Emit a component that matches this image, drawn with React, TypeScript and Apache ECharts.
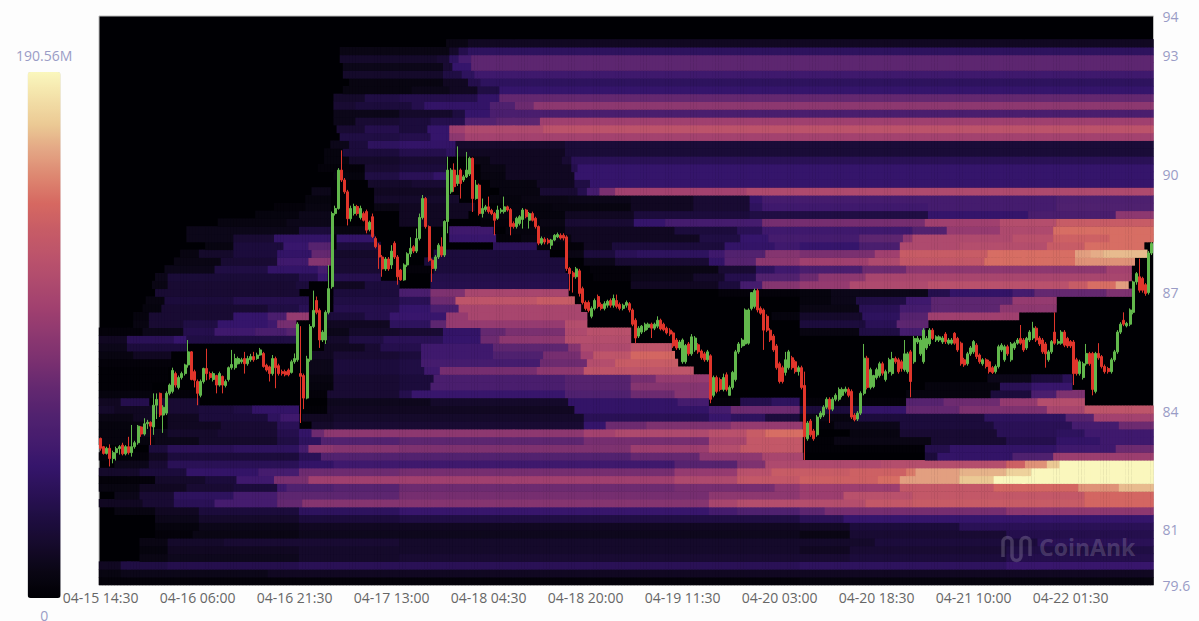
import React, { useEffect, useRef } from "react";
import * as echarts from "echarts";

// --- axes ---
const priceTicks = [79.6, 81, 84, 87, 90, 93, 94];
const priceMin = 79.6;
const priceMax = 94;
const maxVolumeM = 190.56;
const startTimeUtc = Date.UTC(2024, 3, 15, 14, 30);
const candleStepMinutes = 30;
const labelEvery = 31;

// --- candles: open, close, low, high per candle ---
const ohlcA = [
83.31,83.06,83.0,83.33, 83.10,82.93,82.9,83.12, 82.93,83.06,82.9,83.1, 83.06,82.8,82.6,83.16,
82.8,82.95,82.68,83.0, 82.95,83.05,82.75,83.1, 83.05,83.1,82.9,83.14, 83.14,82.92,82.88,83.2,
82.92,83.1,82.88,83.14, 83.1,82.95,82.9,83.35, 82.95,83.1,82.85,83.65, 83.1,83.2,83.05,83.25,
83.2,83.62,83.15,83.65, 83.6,83.42,83.35,83.62, 83.42,83.68,83.38,83.82, 83.68,83.72,83.55,83.78,
83.72,83.62,83.14,83.74, 83.6,84.15,83.4,84.45, 84.15,84.3,83.8,84.45, 84.45,83.9,83.85,84.47,
83.9,84.1,83.45,84.15, 83.95,84.45,83.9,84.5, 84.45,84.66,84.4,84.7, 84.5,85.03,84.45,85.1,
84.95,84.66,84.6,85.0, 84.6,84.85,84.55,84.9, 84.85,84.95,84.8,85.0, 84.95,85.17,84.9,85.2,
85.17,85.5,85.1,85.8, 85.5,84.8,84.78,85.52, 85.0,84.78,84.6,85.05, 84.75,84.45,84.15,84.8,
84.4,84.75,84.35,84.8, 84.75,85.08,84.7,85.1, 85.08,84.95,84.78,85.58, 84.95,84.85,84.8,85.0,
84.8,84.95,84.75,85.0, 84.9,84.66,84.45,84.92, 84.66,84.95,84.62,85.0, 84.88,84.66,84.45,84.9,
84.65,84.75,84.6,84.8, 84.8,85.1,84.75,85.13, 85.1,85.18,85.05,85.55, 85.1,85.33,85.05,85.45,
85.2,85.33,85.18,85.38, 85.25,85.3,85.2,85.35, 85.33,85.2,84.95,85.5, 85.2,85.33,85.15,85.4,
85.3,85.38,85.25,85.45, 85.38,85.3,85.25,85.5, 85.33,85.42,85.3,85.48, 85.42,85.55,85.4,85.6,
85.46,85.13,85.1,85.5, 85.16,85.04,85.0,85.2, 85.12,84.95,84.75,85.15, 84.95,85.33,84.9,85.42,
85.33,85.1,84.58,85.38, 85.15,84.95,84.9,85.2, 85.0,84.95,84.9,85.05, 85.0,84.92,84.88,85.05,
85.04,84.92,84.88,85.08, 84.98,85.25,84.95,85.3, 85.25,85.33,85.2,85.46, 85.3,86.2,85.25,86.25,
84.95,84.88,83.7,86.15, 84.9,84.33,84.05,84.95, 84.33,85.32,84.3,85.4, 85.3,86.14,85.25,86.2,
86.14,86.55,86.1,87.05,
];
const ohlcB = [
86.8,86.5,86.45,86.9, 86.55,85.8,85.6,86.6, 85.8,86.0,85.75,86.05, 85.8,86.5,85.7,86.55,
86.5,87.1,86.45,87.7, 87.15,89.0,87.1,89.05, 89.0,89.13,88.95,89.2, 89.13,90.1,89.1,90.15,
90.1,89.85,89.8,90.6, 89.85,89.55,89.5,89.9, 89.55,88.87,88.7,89.6, 88.87,89.13,88.8,89.2,
89.0,89.18,88.95,89.25, 89.18,89.0,88.95,89.22, 88.9,89.13,88.85,89.2, 89.0,88.83,88.8,89.05,
89.05,88.58,88.5,89.1, 88.6,88.78,88.55,88.82, 88.92,88.42,88.38,89.0, 88.37,88.16,88.12,88.42,
88.2,87.9,87.6,88.25, 87.9,87.6,87.4,87.95, 87.6,87.85,87.55,87.9, 87.85,87.6,87.55,87.9,
87.7,88.05,87.6,88.2, 88.25,87.9,87.85,88.3, 87.9,87.4,87.2,87.95,
];
const ohlcC = [
87.57,87.32,87.3,87.6, 87.32,87.7,87.3,87.74, 87.7,87.98,87.65,88.02, 87.98,88.12,87.9,88.4,
88.16,88.05,88.0,88.2, 88.05,88.37,88.0,88.62, 88.37,88.9,88.32,89.0, 88.9,89.38,88.85,89.47,
89.38,88.67,88.62,89.42, 88.67,87.82,87.78,88.7, 87.82,87.61,87.27,87.86, 87.61,87.9,87.55,87.95,
87.9,88.2,87.85,88.25, 88.16,87.95,87.9,88.4, 87.95,88.8,87.9,88.83, 88.8,90.1,88.5,90.44,
89.55,90.1,89.5,90.15, 90.1,89.68,89.55,90.27, 89.76,89.97,89.7,90.7, 90.1,89.76,89.38,90.14,
89.85,89.93,89.8,89.98, 89.93,90.1,89.9,90.56, 90.0,90.4,89.95,90.44, 90.4,89.38,89.04,90.42,
89.38,89.72,89.35,89.85, 89.72,89.0,88.95,89.76, 89.0,89.13,88.9,89.38, 89.1,89.17,89.05,89.22,
89.17,89.05,89.0,89.43, 89.08,89.0,88.96,89.12, 89.0,88.83,88.45,89.04, 88.88,89.09,88.84,89.2,
89.05,89.09,89.0,89.14, 89.05,89.17,89.0,89.43, 89.17,89.09,89.05,89.2, 89.1,88.67,88.45,89.14,
88.75,88.67,88.62,88.8, 88.67,88.88,88.62,88.92, 88.75,88.92,88.7,88.96, 88.85,89.09,88.62,89.14,
89.09,88.92,88.88,89.12, 88.83,89.0,88.62,89.04, 89.0,88.83,88.8,89.05, 88.88,88.67,88.62,88.92,
88.67,88.25,88.2,88.7, 88.25,88.37,88.2,88.42, 88.35,88.28,88.22,88.4, 88.33,88.26,88.22,88.38,
88.2,88.33,88.1,88.36, 88.33,88.45,88.3,88.48, 88.41,88.47,88.38,88.52, 88.45,88.38,88.34,88.5,
88.45,88.38,88.32,88.5, 88.41,87.61,87.55,88.45, 87.61,87.48,87.05,87.65, 87.5,87.4,87.0,87.55,
87.4,87.6,87.35,87.65, 87.55,86.98,86.9,87.6, 87.1,86.75,86.7,87.15, 86.75,86.6,86.55,86.8,
86.75,86.55,86.5,86.8, 86.4,86.6,86.35,86.65, 86.6,86.8,86.55,86.85, 86.9,86.65,86.6,86.95,
86.7,86.6,86.55,86.75, 86.6,86.72,86.55,86.78, 86.68,86.78,86.62,86.82, 86.8,86.68,86.62,86.85,
86.68,86.85,86.62,86.95, 86.8,86.65,86.6,86.95, 86.7,86.6,86.55,86.75, 86.6,86.68,86.55,86.72,
86.68,86.75,86.62,86.8, 86.72,86.56,86.5,86.76, 86.56,86.2,86.15,86.6, 86.3,85.85,85.72,86.35,
85.9,86.1,85.85,86.15, 86.0,86.15,85.95,86.18, 86.05,86.2,86.0,86.24, 86.12,86.2,86.06,86.24,
86.2,86.1,85.85,86.24, 86.1,86.2,86.05,86.24, 86.15,86.3,86.1,86.4, 86.3,86.08,86.04,86.34,
86.2,86.06,86.02,86.24, 86.1,85.98,85.94,86.14, 86.05,85.95,85.9,86.1, 85.98,85.65,85.6,86.02,
85.8,85.6,85.55,85.85, 85.6,85.75,85.55,85.8, 85.25,85.8,85.2,85.84, 85.25,85.66,85.2,85.7,
85.7,85.45,85.4,85.75, 85.45,85.88,85.4,85.95, 85.55,85.85,85.5,85.9, 85.68,85.5,85.45,85.72,
85.52,85.35,85.3,85.56, 85.45,85.3,85.25,85.5, 85.3,85.5,85.25,85.55, 85.4,84.3,84.2,85.44,
84.4,84.85,84.35,84.9, 84.85,84.5,84.45,84.9, 84.8,84.55,84.5,84.85, 84.55,84.85,84.5,84.95,
84.92,84.55,84.5,84.98, 84.4,84.6,84.4,84.65, 84.6,84.98,84.55,85.02, 84.8,85.5,84.75,85.55,
85.5,85.7,85.45,85.75, 85.65,85.8,85.6,85.85, 85.7,86.56,85.65,86.6, 85.72,86.56,85.68,86.6,
86.6,87.0,86.55,86.9, 86.65,87.05,86.6,87.1, 87.05,86.56,86.5,87.1, 86.6,86.48,86.44,86.65,
86.56,86.05,85.55,86.6, 86.4,86.05,86.0,86.45, 86.05,85.8,85.75,86.1, 85.9,85.55,85.5,85.95,
85.65,85.1,85.05,85.7, 85.2,84.75,84.7,85.25, 85.1,84.75,84.7,85.15, 84.98,85.3,84.9,85.5,
85.1,85.5,85.05,85.55, 85.35,85.1,85.05,85.4, 85.25,85.0,84.95,85.3, 85.0,85.1,84.9,85.15,
];
const ohlcD = [
85.1,84.6,84.55,85.15, 84.65,83.35,82.76,85.0, 83.3,83.7,83.25,83.75, 83.75,83.4,83.35,83.8,
83.5,83.3,83.25,83.55, 83.4,83.85,83.35,83.9, 83.85,83.95,83.8,84.0, 83.9,84.1,83.85,84.15,
84.1,84.3,84.05,84.35, 84.3,84.05,83.7,84.35, 84.05,84.3,84.0,84.35, 84.3,84.4,84.25,84.45,
84.3,84.55,84.25,84.6, 84.4,84.55,84.35,84.6, 84.5,84.56,84.45,84.62, 84.55,84.4,84.35,84.6,
84.5,83.85,83.8,84.55, 83.9,83.78,83.74,83.95, 83.8,83.95,83.75,84.0, 83.95,84.45,83.9,84.5,
84.45,85.34,84.4,85.7, 85.34,84.6,84.55,85.4, 84.6,85.05,84.55,85.1, 84.62,84.9,84.58,84.92,
84.85,85.05,84.8,85.1, 84.9,85.2,84.85,85.25, 85.2,84.96,84.9,85.25, 84.8,85.0,84.75,85.05,
85.0,85.3,84.95,85.35, 84.95,85.33,84.9,85.5, 85.33,85.25,85.2,85.38, 85.3,85.0,84.95,85.35,
85.25,85.08,85.0,85.3, 85.05,85.45,85.0,85.8, 85.0,85.45,84.95,85.5, 85.5,84.75,84.35,85.55,
85.25,85.84,85.2,85.9, 85.75,85.84,85.7,85.9, 85.45,85.8,85.4,85.85, 85.25,86.05,85.2,86.1,
85.6,85.84,85.55,85.9, 85.7,86.05,85.65,86.1, 86.05,85.84,85.8,86.1, 85.8,85.88,85.75,85.92,
85.8,85.88,85.75,85.92, 85.75,85.85,85.7,85.9, 85.95,85.76,85.7,86.0, 85.72,85.8,85.68,85.85,
85.72,85.8,85.68,85.85, 85.97,85.72,85.68,86.0, 85.84,85.55,85.5,85.88, 85.72,85.2,85.15,85.76,
85.3,85.17,85.12,85.35, 85.2,85.45,85.15,85.5, 85.45,85.6,85.4,85.65, 85.5,85.76,85.45,85.8,
85.67,85.38,85.32,85.72, 85.42,85.25,85.2,85.46, 85.2,85.3,85.15,85.34, 85.3,85.13,85.08,85.34,
85.25,85.0,84.95,85.3, 85.1,84.98,84.94,85.14, 85.0,85.13,84.95,85.18, 85.13,85.63,85.08,85.68,
85.55,85.67,85.5,85.72, 85.3,85.63,85.25,85.68, 85.63,85.45,85.4,85.68, 85.3,85.7,85.25,85.75,
85.6,85.72,85.55,85.76, 85.72,85.8,85.68,85.85, 85.84,85.72,85.68,86.18, 85.8,85.55,85.5,85.85,
85.6,85.84,85.55,85.88, 85.8,86.0,85.75,86.05, 85.85,86.1,85.8,86.26, 86.1,85.8,85.75,86.15,
85.85,85.7,85.65,85.9, 85.8,85.5,85.45,85.85, 85.7,85.45,85.1,85.75, 85.3,85.5,85.25,85.55,
85.5,85.76,85.45,85.8, 86.0,85.72,85.68,86.5, 85.72,85.76,85.68,85.82, 85.72,86.0,85.68,86.05,
86.0,85.67,85.62,86.05, 85.84,85.65,85.6,85.88, 85.76,85.65,85.6,85.8, 85.75,84.95,84.66,85.8,
85.3,84.95,84.9,85.35, 84.95,85.25,84.9,85.3, 84.85,85.2,84.8,85.25, 85.2,85.46,85.15,85.7,
85.46,85.2,85.15,85.5, 85.46,84.55,84.4,85.5, 84.5,85.46,84.45,85.5, 85.46,85.35,85.3,85.72,
85.38,85.13,85.08,85.42, 85.13,85.0,84.95,85.18, 85.08,85.0,84.95,85.12, 85.0,85.3,84.95,85.35,
85.3,85.5,85.25,85.55, 85.5,86.0,85.45,86.05, 86.0,86.2,85.95,86.25, 86.3,86.2,86.15,86.5,
86.16,86.22,86.12,86.26, 86.2,86.56,86.15,86.6, 86.5,87.27,86.45,87.3, 87.27,87.48,87.2,87.52,
87.4,87.06,87.0,87.86, 87.36,87.06,87.0,87.4, 87.2,86.98,86.92,87.24, 87.0,88.0,86.95,88.05,
88.0,88.24,87.95,88.28,
];

// --- heat rows, bottom to top: start candle, share of the colour range (%), ... ---
const heatRows = [
[0,2,224,3],
[0,4,7,6,54,8],
[0,8,7,16,22,18,64,20,224,22,290,26],
[13,5,22,7,64,10,96,12,240,14,290,18],
[13,3,22,8,64,10,224,8,240,12,290,16],
[13,5,22,10,40,12,96,10,248,14,300,20],
[18,2,30,5,64,7,224,5,240,12,290,18],
[18,3,32,6,64,8,224,9,240,14,275,20],
[18,6,32,10,64,14,96,16,224,20,238,25],
[5,4,18,8,32,14,64,22,96,26,195,30,204,34,224,38,232,44,290,50],
[0,8,14,12,24,20,37,30,57,40,65,48,195,58,204,62,245,68,260,70,315,74],
[5,6,13,12,24,22,43,30,57,38,96,44,195,50,224,54,238,64,260,68,315,74],
[0,4,13,8,28,12,43,14,57,28,60,34,75,36,96,42,184,44,216,50,224,54,256,68,286,74,313,82,326,88],
[0,2,18,10,34,14,44,28,56,45,67,55,184,60,204,68,224,72,249,76,256,84,275,90,286,100],
[0,10,13,14,28,24,51,30,64,42,96,44,184,52,204,64,215,70,240,72,258,78,261,84,275,87,290,92,298,100],
[5,6,16,12,22,20,64,24,75,28,184,36,204,46,213,60,250,62,290,72,296,82,303,90,307,100],
[0,2,16,8,22,14,64,20,71,35,170,40,192,50,212,58,225,0,264,14,268,24,292,34,305,54],
[16,14,22,20,43,22,64,30,67,50,75,48,96,46,170,54,195,62,205,68,225,1,264,18,272,24,306,28,325,42],
[0,3,18,6,32,10,57,16,64,22,71,35,96,38,155,44,195,58,207,68,225,1,235,5,266,12,290,18,306,24,320,28],
[0,3,13,6,22,10,38,12,57,18,64,24,68,42,72,50,155,56,165,60,195,64,207,70,213,76,225,0,240,4,256,12,287,20,306,22,315,28],
[0,3,16,0,22,8,39,12,57,20,64,0,68,10,75,12,155,25,162,42,175,46,202,52,225,2,235,6,256,14,286,20,311,30,326,42],
[0,5,11,8,17,0,22,8,32,14,54,22,58,28,64,0,65,8,75,10,155,20,195,26,202,22,213,14,224,4,242,14,283,22,309,36,318,56],
[0,10,5,8,22,12,32,14,43,16,49,24,64,1,73,8,152,24,195,30,202,42,224,14,243,24,258,40,275,46,303,58,315,66],
[0,8,7,18,16,0,19,12,32,0,73,7,106,10,150,24,185,30,195,2,205,18,215,22,224,2,258,36,270,42,288,52,300,62,315,0],
[0,3,17,2,32,0,66,2,73,12,96,18,100,26,149,34,170,42,184,48,195,0,258,3,285,14,298,32,306,46,315,0],
[0,1,17,0,66,3,75,12,96,14,106,32,149,36,170,48,195,0,264,3,288,20,298,26,311,0],
[0,1,22,0,67,4,75,12,96,14,107,32,149,36,170,44,178,52,195,0,284,6,298,14,308,20,311,0],
[0,1,22,0,67,6,75,14,96,16,104,28,109,44,140,50,155,66,190,0],
[0,2,23,0,67,6,75,14,96,16,103,30,141,42,156,62,165,70,185,0],
[0,4,11,8,23,0,68,8,75,12,96,14,103,28,126,34,142,44,154,56,158,66,170,74,184,0],
[0,6,9,14,28,0,72,8,85,12,90,18,103,28,126,38,150,48,154,60,170,66,183,0],
[0,8,9,20,24,25,28,16,63,0,73,10,80,16,91,20,110,25,122,42,128,50,149,62,170,0],
[0,2,14,6,27,18,37,28,50,32,60,36,63,0,73,6,80,10,96,12,110,24,122,40,130,45,149,60,156,64,170,0,224,4,243,16,256,30,264,0],
[11,4,16,12,27,16,38,25,54,28,57,44,63,0,73,8,93,22,106,38,111,52,149,62,156,0,224,14,245,20,255,38,265,0],
[11,3,16,12,43,25,54,32,60,52,67,0,73,14,85,18,93,26,111,52,118,58,156,0,215,3,224,10,244,22,256,36,265,55,294,0],
[14,3,20,12,54,16,64,20,67,0,75,18,96,25,106,32,115,58,154,0,224,5,243,20,256,30,266,38,288,50,306,0],
[15,4,21,14,43,18,67,0,75,16,96,20,106,42,114,66,140,70,152,0,224,3,234,6,242,16,258,28,266,38,292,52,306,0],
[18,12,64,0,75,14,96,32,106,46,117,58,150,0,198,2,224,3,234,6,265,18,272,24,292,30,299,40,322,46,330,0],
[17,5,22,12,63,14,67,0,75,8,85,14,96,0,106,18,150,0,170,8,198,14,205,30,212,48,224,52,240,60,265,64,310,70,316,76,325,84,329,0],
[18,6,22,13,64,18,70,26,73,0,75,18,90,0,106,17,150,0,158,2,170,6,190,10,200,18,210,35,224,42,230,50,245,58,330,0],
[21,6,37,16,54,24,70,30,73,0,75,12,90,0,96,2,107,14,149,0,157,2,170,5,198,12,210,22,216,28,224,32,244,42,258,50,322,56,330,0],
[24,5,39,12,57,28,67,48,74,0,75,12,90,0,104,14,149,0,155,6,165,12,195,24,200,36,210,50,224,55,246,60,256,68,283,76,312,82,331,0],
[26,4,32,10,43,14,57,24,68,40,74,0,75,10,90,0,107,14,144,0,150,5,155,14,165,20,172,22,195,28,200,35,213,48,224,45,248,55,256,70,284,76,312,84,317,86,321,88,335,0],
[34,4,43,14,59,26,67,36,74,0,76,14,90,0,126,20,140,2,155,8,164,14,200,24,216,28,224,25,243,32,256,60,275,62,303,70,315,76,334,0],
[28,6,43,12,56,24,74,0,76,24,88,0,112,26,127,2,135,4,151,8,192,16,205,25,214,30,243,38,257,50,260,60,292,64,305,72,323,76],
[28,6,64,14,74,0,75,4,88,0,112,28,126,0,130,3,149,8,184,14,204,20,212,28,260,35,271,52,288,60,305,76],
[38,4,60,6,74,0,96,8,110,0,122,2,141,5,149,12,171,25,181,30,212,44,264,55,288,62,306,70],
[50,3,64,6,74,0,96,8,118,0,122,3,149,8,171,14,208,16,265,25,297,32,325,50],
[56,2,66,4,74,0,88,5,96,8,120,0,130,3,145,4,170,8,190,12,208,22,212,28,265,30,306,34],
[66,3,74,0,88,10,115,0,125,3,135,5,150,6,170,8,190,12,208,24,212,30,306,33],
[68,6,74,0,88,8,111,0,128,4,141,12,153,18,156,30,160,45,165,56,207,60],
[74,0,86,10,100,12,111,0,125,4,140,8,152,16,157,25],
[75,3,85,16,96,20,107,24,111,0,122,4,130,8,152,25],
[70,2,85,12,96,14,111,0,122,5,130,8,151,18,153,25],
[72,3,80,10,96,12,111,0,120,5,125,8,148,12,151,20],
[72,3,78,14,96,18,111,22,114,8,149,13],
[74,6,80,14,86,22,96,24,114,10,149,13],
[77,16,96,18,106,25,112,50,117,56],
[76,12,85,18,96,14,105,25,112,55,117,60,142,65],
[75,6,82,12,96,14,106,18,117,35,127,38,141,55],
[75,6,96,10,113,15,117,25,125,32],
[75,12,82,14,100,18,104,24,125,34,133,42,139,50],
[75,10,85,16,96,18,121,24,128,40],
[78,4,100,6,112,8,121,16,128,25],
[80,4,110,8,118,18,122,22],
[78,10,110,16,116,22,120,28],
[78,6,110,12,113,25,119,38],
[77,10,108,12,112,22,115,30,119,38],
[77,5,112,10,115,18,118,22],
[111,5,118,8],
[],
[],
[],
];

const heatColors = [
  "#000004","#0a0614","#150a2b","#1e0d40","#2a1156","#35156b","#451c6e","#52226f","#642870","#7a3070",
  "#8d3870","#a0406f","#ae4a6e","#bc536b","#c75c66","#d66861","#dd8670","#e3a584","#ebc994","#f3e0a8","#faf7bd",
];

const logoPath =
  "M2 22V7a4.5 4.5 0 0 1 9 0V21a4.5 4.5 0 0 0 9 0V7a4.5 4.5 0 0 1 9 0V21";

echarts.graphic.registerShape("coinankLogo", echarts.graphic.extendPath(logoPath, {}));

function pad(n: number) {
  return String(n).padStart(2, "0");
}

const candles: number[][] = [];
const flat = [...ohlcA, ...ohlcB, ...ohlcC, ...ohlcD];
for (let i = 0; i + 3 < flat.length; i += 4) candles.push(flat.slice(i, i + 4));

const times = candles.map((_, i) => {
  const d = new Date(startTimeUtc + i * candleStepMinutes * 60000);
  return `${pad(d.getUTCMonth() + 1)}-${pad(d.getUTCDate())} ${pad(d.getUTCHours())}:${pad(d.getUTCMinutes())}`;
});

const rowLabels = heatRows.map((_, r) => String(r));

const heatCells: number[][] = [];
heatRows.forEach((segs, r) => {
  for (let s = 0; s < segs.length; s += 2) {
    const end = s + 2 < segs.length ? segs[s + 2] : candles.length;
    const level = segs[s + 1];
    if (level <= 0) continue;
    for (let c = segs[s]; c < end; c++) heatCells.push([c, r, (level * maxVolumeM) / 100]);
  }
});

export default function App() {
  const ref = useRef<HTMLDivElement>(null);
  useEffect(() => {
    const chart = echarts.init(ref.current!, null, { renderer: "svg" });
    chart.setOption({
      animation: false,
      backgroundColor: "#fdfdfd",
      textStyle: { fontFamily: "'Open Sans', 'Noto Sans', sans-serif" },
      grid: {
        left: 99,
        top: 16,
        width: 1054.5,
        height: 569,
        show: true,
        backgroundColor: "#000004",
        borderColor: "#bdbdbd",
        borderWidth: 1,
      },
      xAxis: {
        type: "category",
        data: times,
        axisLine: { show: false },
        axisTick: { show: false },
        splitLine: { show: false },
        axisLabel: {
          interval: labelEvery - 1,
          color: "#666",
          fontSize: 14,
          margin: 5,
          hideOverlap: false,
        },
      },
      yAxis: [
        {
          type: "category",
          data: rowLabels,
          show: false,
        },
        {
          type: "value",
          position: "right",
          min: priceMin,
          max: priceMax,
          scale: true,
          axisLine: { show: false },
          axisTick: { show: false },
          splitLine: { show: false },
          axisLabel: {
            customValues: priceTicks,
            color: "#9a9cc6",
            fontSize: 14,
            margin: 9,
            padding: [0, 0, 3, 0],
            showMinLabel: true,
            showMaxLabel: true,
          },
        },
      ],
      visualMap: {
        type: "continuous",
        seriesIndex: 0,
        min: 0,
        max: maxVolumeM,
        left: 1,
        top: 33,
        itemWidth: 33,
        itemHeight: 526,
        text: ["190.56M", "0"],
        textGap: 10,
        textStyle: { color: "#9a9cc6", fontSize: 14 },
        calculable: false,
        hoverLink: false,
        inRange: { color: heatColors },
      },
      series: [
        {
          type: "heatmap",
          xAxisIndex: 0,
          yAxisIndex: 0,
          data: heatCells,
          emphasis: { disabled: true },
          silent: true,
          progressive: 0,
        },
        {
          type: "candlestick",
          xAxisIndex: 0,
          yAxisIndex: 1,
          data: candles,
          barWidth: 2.5,
          silent: true,
          z: 5,
          itemStyle: {
            color: "#62b84c",
            color0: "#e0352b",
            borderColor: "#62b84c",
            borderColor0: "#e0352b",
            borderWidth: 1,
          },
        },
      ],
      graphic: [
        {
          type: "coinankLogo",
          z: 100,
          zlevel: 1,
          silent: true,
          x: 1001,
          y: 535,
          style: { fill: "none", stroke: "rgba(255,255,255,0.18)", lineWidth: 3.5 },
        },
        {
          type: "text",
          z: 100,
          zlevel: 1,
          silent: true,
          x: 1039,
          y: 535,
          style: {
            text: "CoinAnk",
            font: "bold 23px 'Open Sans', sans-serif",
            fill: "rgba(255,255,255,0.18)",
          },
        },
      ],
    });
    return () => chart.dispose();
  }, []);
  return <div ref={ref} style={{ position: "absolute", left: 0, top: 0, width: 1199, height: 621 }} />;
}
